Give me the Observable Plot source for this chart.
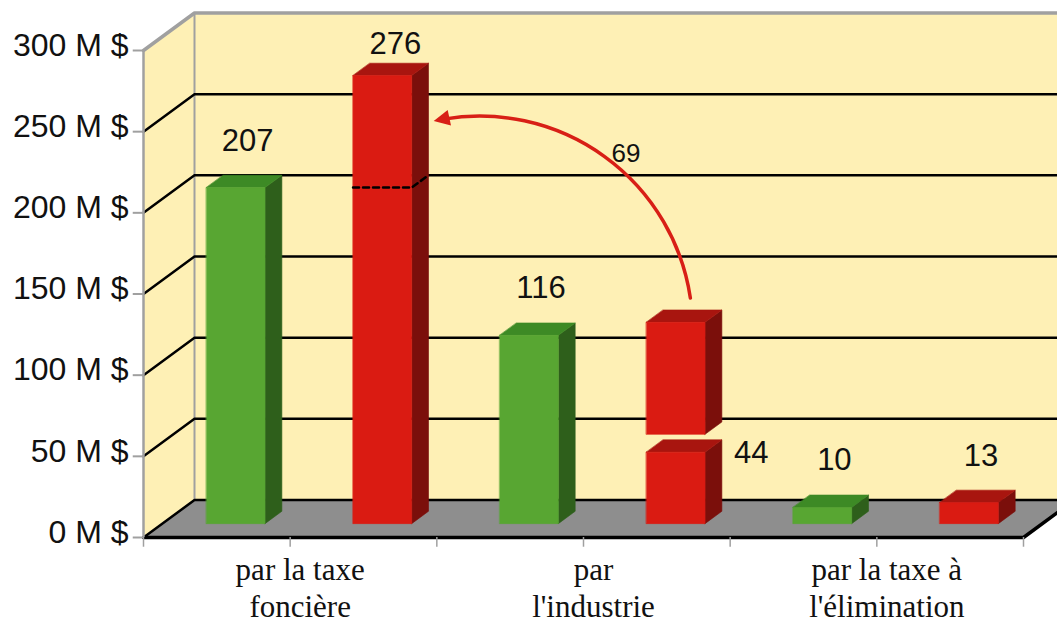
<!DOCTYPE html>
<html><head><meta charset="utf-8">
<script src="https://cdn.jsdelivr.net/npm/d3@7"></script>
<script src="https://cdn.jsdelivr.net/npm/@observablehq/plot@0.6"></script>
<style>body{margin:0;background:#fff}svg{display:block}</style>
</head><body><div id="chart"></div>
<script>
// ---- data ----
const categories = ["par la taxe\nfoncière", "par\nl'industrie", "par la taxe à\nl'élimination"];
const greenValues = [207, 116, 10];   // first series (green)
const redValues = [276, 44, 13];      // second series (red)
const transferValue = 69;             // detached block moved by the arrow
const transferBase = 55;              // bottom of the detached block
const yTicks = [0, 50, 100, 150, 200, 250, 300];
const yTickLabels = ["0 M $", "50 M $", "100 M $", "150 M $", "200 M $", "250 M $", "300 M $"];

// ---- style / geometry ----
const W = 0.4;                 // bar width (x units)
const DX = 0.3477, DY = 23.1;  // full depth of the box in data units
const Z0 = 0.37, Z1 = 0.70;    // bar front/back depth
const X0 = -0.5, X1 = 5.5;
const P = (x, y, z) => ({x: x + z * DX, y: y + z * DY});
const palette = {
  green: {front: "#58a632", top: "#3d8a25", side: "#2e5f1b"},
  red: {front: "#da1b12", top: "#a8150f", side: "#7b0f0b"}
};
const WALL = "#fef0b5", FLOOR = "#8e8e8e", EDGE = "#a0a0a0";

// bars
const bars = [];
categories.forEach((c, i) => {
  bars.push({pos: 2 * i, y1: 0, y2: greenValues[i], kind: "green"});
  bars.push({pos: 2 * i + 1, y1: 0, y2: redValues[i], kind: "red"});
  if (i === 1) bars.push({pos: 2 * i + 1, y1: transferBase, y2: transferBase + transferValue, kind: "red"});
});
const faces = [];
bars.forEach((b, k) => {
  const xl = b.pos - W / 2, xr = b.pos + W / 2, col = palette[b.kind];
  const add = (name, pts, fill) => pts.forEach(p => faces.push({id: k + name, ...p, fill}));
  add("s", [P(xr, b.y1, Z0), P(xr, b.y1, Z1), P(xr, b.y2, Z1), P(xr, b.y2, Z0)], col.side);
  add("t", [P(xl, b.y2, Z0), P(xr, b.y2, Z0), P(xr, b.y2, Z1), P(xl, b.y2, Z1)], col.top);
  add("f", [P(xl, b.y1, Z0), P(xr, b.y1, Z0), P(xr, b.y2, Z0), P(xl, b.y2, Z0)], col.front);
});

// walls & floor
const walls = [];
const addPoly = (arr, id, pts, fill) => pts.forEach(p => arr.push({id, ...p, fill}));
addPoly(walls, "left", [P(X0, 0, 0), P(X0, 300, 0), P(X0, 300, 1), P(X0, 0, 1)], WALL);
addPoly(walls, "back", [P(X0, 0, 1), P(X0, 300, 1), P(X1, 300, 1), P(X1, 0, 1)], WALL);
addPoly(walls, "floor", [P(X0, 0, 0), P(X0, 0, 1), P(X1, 0, 1), P(X1, 0, 0)], FLOOR);

const grid = [];
yTicks.filter(t => t < 300).forEach(t => {
  [P(X0, t, 0), P(X0, t, 1), P(X1, t, 1)].forEach(p => grid.push({id: t, ...p}));
});
const topEdge = [P(X0, 300, 0), P(X0, 300, 1), P(X1, 300, 1)];
const backLeftEdge = [P(X0, 0, 1), P(X0, 300, 1)];
const floorFront = [P(X0, 0, 0), P(X1, 0, 0), P(X1, 0, 1)];
const xTicks = d3.range(X0, X1 + 0.01, 1);

// dashed mark of the previous value on the first red bar
const dashPts = [P(1 - W / 2, greenValues[0], Z0), P(1 + W / 2, greenValues[0], Z0), P(1 + W / 2, greenValues[0], Z1)];

// arrow annotation
const aStart = P(3 + 0.1, transferBase + transferValue + 15, Z0);
const aEnd = P(1 + W / 2 + 0.15, redValues[0] - 28, Z0);
const arrowData = [{x1: aStart.x, y1: aStart.y, x2: aEnd.x, y2: aEnd.y}];
const headShape = {draw(ctx, l) { ctx.moveTo(0, -l); ctx.lineTo(l * 0.5, 0); ctx.lineTo(-l * 0.5, 0); ctx.closePath(); }};

// value labels
const labels = [];
categories.forEach((c, i) => {
  labels.push({...P(2 * i, greenValues[i], Z0), text: String(greenValues[i]), mode: "top"});
  labels.push({...P(2 * i + 1, redValues[i], Z0), text: String(redValues[i]), mode: i === 0 ? "tight" : i === 1 ? "right" : "top"});
});

const sans = "Liberation Sans, Arial, sans-serif";
const chart = Plot.plot({
  width: 1057, height: 623,
  marginLeft: 143, marginRight: 34, marginTop: 50, marginBottom: 86,
  x: {domain: [X0, X1], axis: null},
  y: {domain: [0, 300], axis: null},
  color: {type: "identity"},
  style: {fontFamily: sans, background: "#fff", overflow: "visible"},
  marks: [
    Plot.line(walls, {x: "x", y: "y", z: "id", fill: "fill", stroke: "fill", strokeWidth: 0.5, curve: "linear-closed"}),
    Plot.line(backLeftEdge, {x: "x", y: "y", stroke: EDGE, strokeWidth: 2}),
    Plot.line(grid, {x: "x", y: "y", z: "id", stroke: "#000", strokeWidth: 2.5}),
    Plot.line(topEdge, {x: "x", y: "y", stroke: EDGE, strokeWidth: 3.5}),
    Plot.line(floorFront, {x: "x", y: "y", stroke: "#000", strokeWidth: 3.5}),
    Plot.ruleX([X0], {x: d => d, y1: 0, y2: 300, stroke: EDGE, strokeWidth: 2.5}),
    Plot.ruleY(yTicks, {y: d => d, x1: X0 - 0.07, x2: X0, stroke: EDGE, strokeWidth: 2}),
    Plot.ruleX(xTicks, {x: d => d, y1: 0, y2: -6, stroke: EDGE, strokeWidth: 1.5}),
    Plot.line(faces, {x: "x", y: "y", z: "id", fill: "fill", stroke: "fill", strokeWidth: 0.6, curve: "linear-closed"}),
    Plot.line(dashPts, {x: "x", y: "y", stroke: "#000", strokeWidth: 2.5, strokeDasharray: "6,4"}),
    Plot.arrow(arrowData, {x1: "x1", y1: "y1", x2: "x2", y2: "y2", bend: -47, headLength: 0, insetEnd: 10, stroke: "#d81f16", strokeWidth: 3.5}),
    Plot.vector([aEnd], {x: "x", y: "y", length: 16, rotate: 258, anchor: "end", shape: headShape, fill: "#d81f16", stroke: "none"}),
    Plot.text(arrowData, {x: d => (d.x1 + d.x2) / 2, y: d => (d.y1 + d.y2) / 2, text: () => String(transferValue), dx: 64, dy: -56, fontSize: 26, fill: "#111"}),
    Plot.text(labels.filter(d => d.mode === "top"), {x: "x", y: "y", text: "text", dx: 12, dy: -37, lineAnchor: "bottom", fontSize: 31, fill: "#111"}),
    Plot.text(labels.filter(d => d.mode === "tight"), {x: "x", y: "y", text: "text", dx: 13, dy: -22, lineAnchor: "bottom", fontSize: 31, fill: "#111"}),
    Plot.text(labels.filter(d => d.mode === "right"), {x: d => d.x + W / 2, y: "y", text: "text", dx: 29, dy: 11, textAnchor: "start", lineAnchor: "bottom", fontSize: 31, fill: "#111"}),
    Plot.text(yTicks, {x: X0, y: d => d, text: (d, i) => yTickLabels[i], textAnchor: "end", dx: -15, dy: -5, fontSize: 32, fill: "#111"}),
    Plot.text(categories, {x: (d, i) => 2 * i + 0.5, y: 0, text: d => d, dx: 10, dy: 17, lineAnchor: "top", lineHeight: 1.17, fontSize: 31, fontFamily: "Liberation Serif, Times New Roman, serif", fill: "#111"})
  ]
});
document.getElementById("chart").append(chart);
</script>
</body></html>
